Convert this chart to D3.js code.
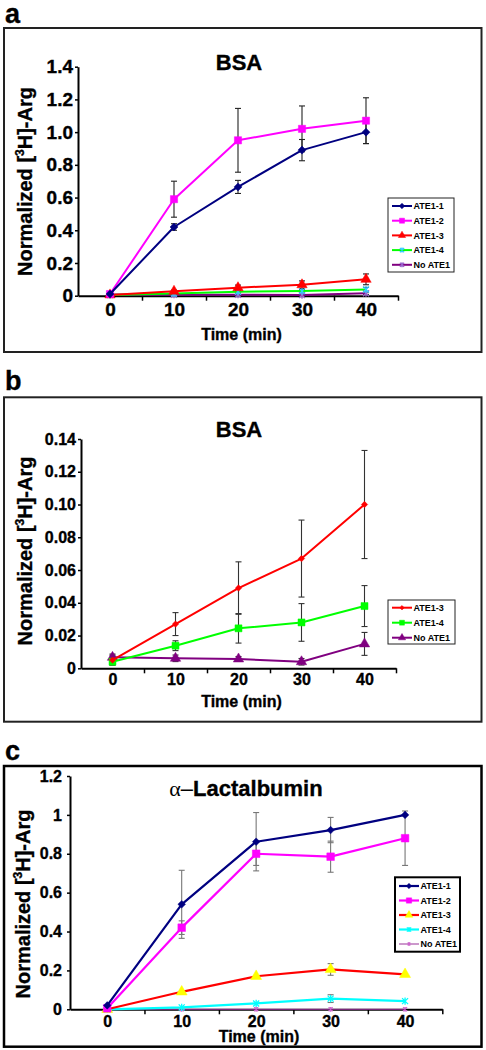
<!DOCTYPE html>
<html><head><meta charset="utf-8">
<script src="https://cdn.jsdelivr.net/npm/d3@7"></script>
<style>
body{margin:0;background:#fff}
svg{display:block}
text{font-family:"Liberation Sans",Arial,sans-serif;font-weight:bold;fill:#000}
text.heavy{stroke:#000;stroke-width:0.35px}
</style>
</head><body>
<svg id="chart" width="486" height="1050"></svg>
<script>
// ---------- DATA ----------
const timesMin = [0, 10, 20, 30, 40];
const xMinorTicks = [5, 15, 25, 35, 45];

// panel a (BSA)
const aATE1_1 = [0.01, 0.42, 0.665, 0.89, 1.00];
const aATE1_1Err = [0, 0.02, 0.04, 0.065, 0.07];
const aATE1_2 = [0.01, 0.59, 0.95, 1.02, 1.07];
const aATE1_2Err = [0, 0.11, 0.195, 0.14, 0.14];
// shared low series (BSA, panels a & b)
const bATE1_3 = [0.005, 0.027, 0.049, 0.067, 0.100];
const bATE1_3Err = [0.003, 0.007, 0.016, 0.0235, 0.033];
const bATE1_4 = [0.004, 0.0138, 0.0244, 0.028, 0.038];
const bATE1_4Err = [0.002, 0.003, 0.009, 0.0115, 0.0125];
const bNoATE1 = [0.0067, 0.0061, 0.0057, 0.004, 0.0149];
const bNoATE1Err = [0.002, 0.002, 0.0015, 0.002, 0.007];

// panel c (alpha-Lactalbumin)
const cATE1_1 = [0.02, 0.54, 0.862, 0.922, 1.00];
const cATE1_1Err = [0, 0.175, 0.15, 0.065, 0];
const cATE1_2 = [0.005, 0.42, 0.80, 0.785, 0.88];
const cATE1_2Err = [0, 0.035, 0.06, 0.08, 0.14];
const cATE1_3 = [0.0, 0.09, 0.17, 0.205, 0.18];
const cATE1_3Err = [0, 0, 0, 0.03, 0];
const cATE1_4 = [0.0, 0.01, 0.03, 0.055, 0.042];
const cATE1_4Err = [0, 0, 0, 0.02, 0];
const cNoATE1 = [0, 0, 0, 0, 0];
const cNoATE1Err = [0, 0, 0, 0, 0];

const aYTicks = [0, 0.2, 0.4, 0.6, 0.8, 1.0, 1.2, 1.4];
const aYLabels = ["0", "0.2", "0.4", "0.6", "0.8", "1.0", "1.2", "1.4"];
const bYTicks = [0, 0.02, 0.04, 0.06, 0.08, 0.10, 0.12, 0.14];
const bYLabels = ["0", "0.02", "0.04", "0.06", "0.08", "0.10", "0.12", "0.14"];
const cYTicks = [0, 0.2, 0.4, 0.6, 0.8, 1, 1.2];
const cYLabels = ["0", "0.2", "0.4", "0.6", "0.8", "1", "1.2"];

// ---------- DRAWING ----------
const svg = d3.select("#chart");

function markerPath(type, s) {
  if (type === "star") {
    return `M${-s},${-s}L${s},${s}M${-s},${s}L${s},${-s}M0,${-s * 1.2}L0,${s * 1.2}`;
  }
  if (type === "diamond") {
    return `M0,${-s}L${s},0L0,${s}L${-s},0Z`;
  }
  if (type === "square") {
    return `M${-s},${-s}H${s}V${s}H${-s}Z`;
  }
  return d3.symbol(d3.symbolTriangle, s * s * 3.6)();
}
function drawMarker(g, type, color, s, x, y) {
  const p = g.append("path").attr("d", markerPath(type, s)).attr("transform", `translate(${x},${y})`);
  if (type === "star") p.attr("fill", "none").attr("stroke", color).attr("stroke-width", 1.3);
  else p.attr("fill", color).attr("stroke", color).attr("stroke-width", 0.5);
}

function drawPanel(cfg) {
  const g = svg.append("g");
  g.append("rect").attr("x", cfg.frame[0]).attr("y", cfg.frame[1])
    .attr("width", cfg.frame[2] - cfg.frame[0]).attr("height", cfg.frame[3] - cfg.frame[1])
    .attr("fill", "none").attr("stroke", cfg.frameColor).attr("stroke-width", cfg.frameW);
  g.append("text").attr("class", "heavy").attr("x", 5).attr("y", cfg.letterY).attr("font-size", 27).text(cfg.letter);

  const x = d3.scaleLinear().domain([-5, 45]).range(cfg.xr);
  const y = d3.scaleLinear().domain([0, cfg.ymax]).range(cfg.yr);

  // y axis
  const ya = g.append("g").attr("transform", `translate(${cfg.xr[0]},0)`)
    .call(d3.axisLeft(y).tickValues(cfg.yTicks).tickFormat((d, i) => cfg.yLabels[i])
      .tickSize(3).tickSizeOuter(0).tickPadding(cfg.yPad));
  ya.select(".domain").attr("stroke", "#000").attr("stroke-width", 2);
  ya.selectAll(".tick line").attr("stroke", "#000").attr("stroke-width", 1.5);
  ya.selectAll("text").attr("class", "heavy").attr("font-size", cfg.tickFont);

  // x axis (minor ticks)
  const xa = g.append("g").attr("transform", `translate(0,${cfg.yr[0]})`)
    .call(d3.axisBottom(x).tickValues(xMinorTicks).tickFormat("").tickSize(5).tickSizeOuter(0));
  xa.select(".domain").attr("stroke", "#000").attr("stroke-width", 2);
  xa.selectAll(".tick line").attr("stroke", "#000").attr("stroke-width", 1.5);
  // x axis labels
  const xl = g.append("g").attr("transform", `translate(0,${cfg.yr[0]})`)
    .call(d3.axisBottom(x).tickValues(timesMin).tickSize(0).tickPadding(cfg.xPad));
  xl.select(".domain").remove();
  xl.selectAll("text").attr("class", "heavy").attr("font-size", cfg.tickFont);

  // axis titles
  g.append("text").attr("class", "heavy").attr("x", cfg.xTitle[0]).attr("y", cfg.xTitle[1]).attr("text-anchor", "middle")
    .attr("font-size", 16).text("Time (min)");
  const yt = g.append("text").attr("class", "heavy").attr("transform", `translate(${cfg.yTitle[0]},${cfg.yTitle[1]}) rotate(-90)`)
    .attr("text-anchor", "middle").attr("font-size", 20);
  yt.append("tspan").text("Normalized [");
  yt.append("tspan").attr("font-size", 12).attr("dy", -8).text("3");
  yt.append("tspan").attr("dy", 8).text("H]-Arg");

  // title
  const tt = g.append("text").attr("class", "heavy").attr("x", cfg.title[0]).attr("y", cfg.title[1]).attr("text-anchor", "middle")
    .attr("font-size", 22);
  if (cfg.titleGreek) {
    tt.append("tspan").attr("font-family", "Liberation Serif, serif").style("font-family", "Liberation Serif, serif")
      .style("font-weight", "normal").style("stroke-width", "0").text("α");
    tt.append("tspan").style("font-weight", "normal").style("stroke-width", "0").text("–");
  }
  tt.append("tspan").text(cfg.titleText);

  // error bars
  cfg.series.forEach(s => {
    const eg = g.append("g").attr("stroke", cfg.errColor).attr("stroke-width", 1.1);
    s.vals.forEach((v, i) => {
      const e = s.err[i];
      if (!e) return;
      const cx = x(timesMin[i]);
      const y1 = y(v + e), y2 = y(Math.max(0, v - e));
      eg.append("line").attr("x1", cx).attr("x2", cx).attr("y1", y1).attr("y2", y2);
      eg.append("line").attr("x1", cx - 3).attr("x2", cx + 3).attr("y1", y1).attr("y2", y1);
      eg.append("line").attr("x1", cx - 3).attr("x2", cx + 3).attr("y1", y2).attr("y2", y2);
    });
  });
  // lines and markers (draw from last to first so main series on top)
  const line = d3.line().x((d, i) => x(timesMin[i])).y(d => y(d));
  cfg.series.slice().reverse().forEach(s => {
    g.append("path").attr("d", line(s.vals)).attr("fill", "none").attr("stroke", s.color)
      .attr("stroke-width", s.lw).attr("stroke-linejoin", "round");
    s.vals.forEach((v, i) => drawMarker(g, s.marker, s.mcolor, s.ms, x(timesMin[i]), y(v)));
  });

  // legend
  const L = cfg.legend;
  g.append("rect").attr("x", L.box[0]).attr("y", L.box[1]).attr("width", L.box[2] - L.box[0])
    .attr("height", L.box[3] - L.box[1]).attr("fill", "#fff").attr("stroke", L.stroke).attr("stroke-width", L.sw);
  cfg.series.forEach((s, i) => {
    const ly = L.y0 + i * L.dy;
    g.append("line").attr("x1", L.lx[0]).attr("x2", L.lx[1]).attr("y1", ly).attr("y2", ly)
      .attr("stroke", s.color).attr("stroke-width", s.lw);
    drawMarker(g, s.marker, s.mcolor, s.ms * 0.7, (L.lx[0] + L.lx[1]) / 2, ly);
    g.append("text").attr("x", L.lx[1] + 1.5).attr("y", ly + 3.3).attr("font-size", 9).text(s.name);
  });
}

// panel a
drawPanel({
  letter: "a", letterY: 23, frame: [4, 28, 481.5, 352], frameColor: "#222", frameW: 2,
  xr: [78, 398], yr: [295.7, 66.7], ymax: 1.4, yTicks: aYTicks, yLabels: aYLabels,
  tickFont: 19, yPad: 2, xPad: 7, xTitle: [241.5, 340], yTitle: [32, 181.5],
  title: [239, 70], titleText: "BSA", errColor: "#222",
  series: [
    {name: "ATE1-1", vals: aATE1_1, err: aATE1_1Err, color: "#000080", mcolor: "#000080", marker: "diamond", ms: 4, lw: 2},
    {name: "ATE1-2", vals: aATE1_2, err: aATE1_2Err, color: "#ff00ff", mcolor: "#ff00ff", marker: "square", ms: 3.6, lw: 2},
    {name: "ATE1-3", vals: bATE1_3, err: bATE1_3Err, color: "#ff0000", mcolor: "#ff0000", marker: "triangle", ms: 3.6, lw: 2},
    {name: "ATE1-4", vals: bATE1_4, err: bATE1_4Err, color: "#00ff00", mcolor: "#33ccff", marker: "star", ms: 3, lw: 2},
    {name: "No ATE1", vals: bNoATE1, err: bNoATE1Err, color: "#800080", mcolor: "#9966cc", marker: "star", ms: 3, lw: 2}
  ],
  legend: {box: [388, 198, 454, 272], stroke: "#222", sw: 1, lx: [392, 412], y0: 206, dy: 14.7}
});

// panel b
drawPanel({
  letter: "b", letterY: 390, frame: [4, 397.3, 481.5, 721.7], frameColor: "#222", frameW: 2,
  xr: [81, 396], yr: [668.3, 439], ymax: 0.14, yTicks: bYTicks, yLabels: bYLabels,
  tickFont: 16, yPad: 2, xPad: 5, xTitle: [241.5, 707], yTitle: [32, 551],
  title: [239, 437], titleText: "BSA", errColor: "#333",
  series: [
    {name: "ATE1-3", vals: bATE1_3, err: bATE1_3Err, color: "#ff0000", mcolor: "#ff0000", marker: "diamond", ms: 3.2, lw: 2},
    {name: "ATE1-4", vals: bATE1_4, err: bATE1_4Err, color: "#00ff00", mcolor: "#00ff00", marker: "square", ms: 3.5, lw: 2},
    {name: "No ATE1", vals: bNoATE1, err: bNoATE1Err, color: "#800080", mcolor: "#800080", marker: "triangle", ms: 3.6, lw: 2}
  ],
  legend: {box: [388, 600, 455, 644], stroke: "#222", sw: 1, lx: [392, 412], y0: 607.7, dy: 15}
});

// panel c
drawPanel({
  letter: "c", letterY: 759.5, frame: [4, 766, 481.5, 1046.7], frameColor: "#000", frameW: 2.5,
  xr: [70, 442.3], yr: [1009.3, 776], ymax: 1.2, yTicks: cYTicks, yLabels: cYLabels,
  tickFont: 16, yPad: 5, xPad: 6, xTitle: [259, 1042], yTitle: [30, 904],
  title: [246, 796], titleText: "Lactalbumin", titleGreek: true, errColor: "#777",
  series: [
    {name: "ATE1-1", vals: cATE1_1, err: cATE1_1Err, color: "#000080", mcolor: "#000080", marker: "diamond", ms: 3.8, lw: 2.2},
    {name: "ATE1-2", vals: cATE1_2, err: cATE1_2Err, color: "#ff00ff", mcolor: "#ff00ff", marker: "square", ms: 3.8, lw: 2.2},
    {name: "ATE1-3", vals: cATE1_3, err: cATE1_3Err, color: "#ff0000", mcolor: "#ffff00", marker: "triangle", ms: 3.8, lw: 2.2},
    {name: "ATE1-4", vals: cATE1_4, err: cATE1_4Err, color: "#00ffff", mcolor: "#00ffff", marker: "star", ms: 3, lw: 2.2},
    {name: "No ATE1", vals: cNoATE1, err: cNoATE1Err, color: "#993399", mcolor: "#cc66cc", marker: "star", ms: 2, lw: 1}
  ],
  legend: {box: [395, 877.3, 460, 951.7], stroke: "#000", sw: 2, lx: [399, 419], y0: 886, dy: 14.5}
});
</script>
</body></html>
